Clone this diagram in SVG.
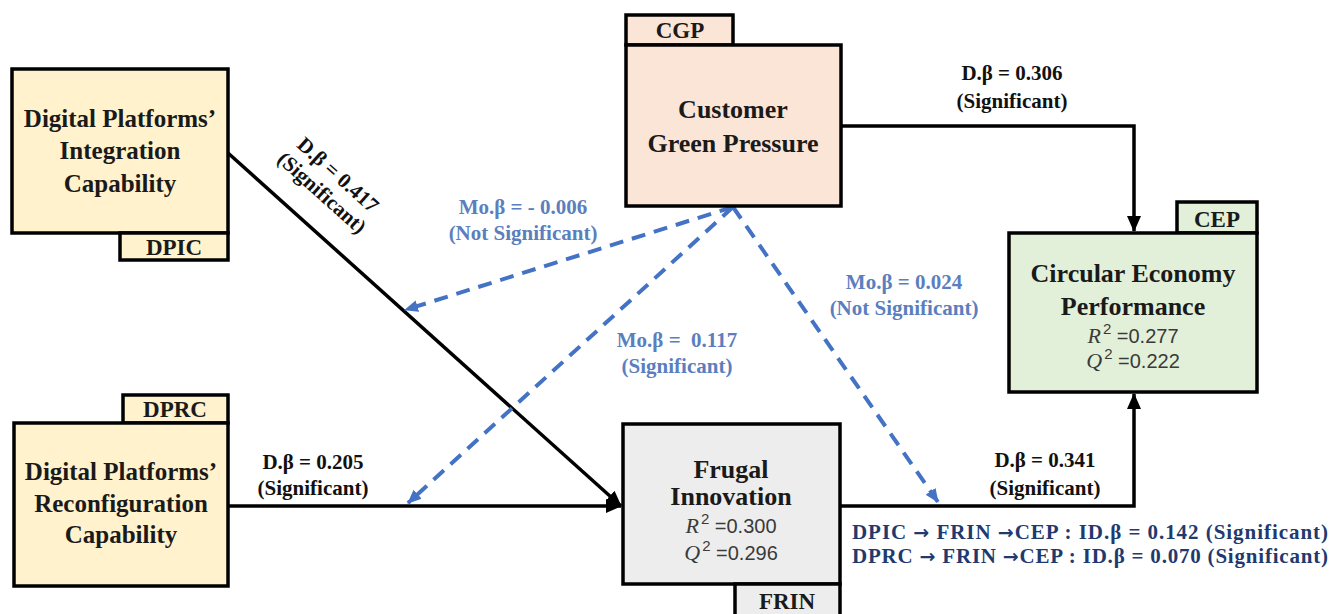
<svg xmlns="http://www.w3.org/2000/svg" width="1331" height="614" viewBox="0 0 1331 614">
<style>
.box{stroke:#000;stroke-width:3.5}
.y{fill:#FFF2CC}.p{fill:#FBE5D6}.g{fill:#E2F0D9}.gr{fill:#EDEDED}
.nt{font-family:"Liberation Serif",serif;font-weight:bold;font-size:25px;fill:#1a1a1a;text-anchor:middle}
.big{font-size:26px}
.tab{font-family:"Liberation Serif",serif;font-weight:bold;font-size:23px;fill:#1a1a1a;text-anchor:middle}
.st{font-family:"Liberation Sans",sans-serif;font-size:20px;fill:#3a3a3a;text-anchor:middle}
.it{font-family:"Liberation Serif",serif;font-style:italic;font-size:22px}
.sup{font-size:15px}
.lb{font-family:"Liberation Serif",serif;font-weight:bold;font-size:21px;fill:#111;text-anchor:middle}
.mo{font-family:"Liberation Serif",serif;font-weight:bold;font-size:21px;fill:#5B7FBE;text-anchor:middle}
.id{font-family:"Liberation Serif",serif;font-weight:bold;font-size:21px;fill:#1F3A6E}
.ar{font-family:"DejaVu Sans",sans-serif;font-weight:bold;font-size:19px}
.solid{fill:none;stroke:#000;stroke-width:3.5}
.dash{fill:none;stroke:#4472C4;stroke-width:4;stroke-dasharray:14 9}
</style>
<defs>
<marker id="ab" markerUnits="userSpaceOnUse" markerWidth="16" markerHeight="14" refX="15" refY="7" orient="auto">
<path d="M0,0 L16,7 L0,14 Z" fill="#000"/>
</marker>
<marker id="ablue" markerUnits="userSpaceOnUse" markerWidth="14" markerHeight="12" refX="13" refY="6" orient="auto">
<path d="M0,0 L14,6 L0,12 Z" fill="#4472C4"/>
</marker>
</defs>

<g id="connectors">
<line class="solid" x1="228" y1="153" x2="621" y2="506" marker-end="url(#ab)"/>
<line class="solid" x1="228" y1="506" x2="621" y2="506" marker-end="url(#ab)"/>
<polyline class="solid" points="841,126 1134,126 1134,231" marker-end="url(#ab)"/>
<polyline class="solid" points="840,506 1134,506 1134,394" marker-end="url(#ab)"/>
<line class="dash" x1="733" y1="207" x2="405" y2="310" marker-end="url(#ablue)"/>
<line class="dash" x1="733" y1="207" x2="408" y2="503" marker-end="url(#ablue)"/>
<line class="dash" x1="733" y1="207" x2="938" y2="502" marker-end="url(#ablue)"/>
<g transform="translate(328,186) rotate(41.9)">
<text class="lb" x="0" y="-8">D.β = 0.417</text>
<text class="lb" x="0" y="16">(Significant)</text>
</g>
<text class="lb" x="1012" y="80">D.β = 0.306</text>
<text class="lb" x="1012" y="108">(Significant)</text>
<text class="lb" x="313" y="469">D.β = 0.205</text>
<text class="lb" x="313" y="495">(Significant)</text>
<text class="lb" x="1045" y="467">D.β = 0.341</text>
<text class="lb" x="1045" y="495">(Significant)</text>
<text class="mo" x="523" y="214">Mo.β = - 0.006</text>
<text class="mo" x="523" y="240">(Not Significant)</text>
<text class="mo" x="677" y="347" xml:space="preserve">Mo.β =  0.117</text>
<text class="mo" x="677" y="373">(Significant)</text>
<text class="mo" x="904" y="289">Mo.β = 0.024</text>
<text class="mo" x="904" y="315">(Not Significant)</text>
<text class="id" x="852" y="539" textLength="476" lengthAdjust="spacing">DPIC <tspan class="ar">→</tspan> FRIN <tspan class="ar">→</tspan>CEP : ID.β = 0.142 (Significant)</text>
<text class="id" x="852" y="563" textLength="476" lengthAdjust="spacing">DPRC <tspan class="ar">→</tspan> FRIN <tspan class="ar">→</tspan>CEP : ID.β = 0.070 (Significant)</text>
</g>

<g id="DPIC">
<rect class="box y" x="12" y="69" width="216" height="164"/>
<rect class="box y" x="120" y="233" width="108" height="27"/>
<text class="nt" x="120" y="127">Digital Platforms’</text>
<text class="nt" x="120" y="159">Integration</text>
<text class="nt" x="120" y="192">Capability</text>
<text class="tab" x="174" y="255">DPIC</text>
</g>

<g id="DPRC">
<rect class="box y" x="123" y="395" width="105" height="28"/>
<rect class="box y" x="14" y="423" width="214" height="163"/>
<text class="tab" x="175" y="417">DPRC</text>
<text class="nt" x="121" y="480">Digital Platforms’</text>
<text class="nt" x="121" y="512">Reconfiguration</text>
<text class="nt" x="121" y="543">Capability</text>
</g>

<g id="CGP">
<rect class="box p" x="626" y="15" width="107" height="30"/>
<rect class="box p" x="626" y="45" width="215" height="161"/>
<text class="tab" x="680" y="38">CGP</text>
<text class="nt big" x="733" y="118">Customer</text>
<text class="nt big" x="733" y="152">Green Pressure</text>
</g>

<g id="CEP">
<rect class="box g" x="1177" y="202" width="80" height="31"/>
<rect class="box g" x="1009" y="233" width="248" height="159"/>
<text class="tab" x="1217" y="227">CEP</text>
<text class="nt big" x="1133" y="282">Circular Economy</text>
<text class="nt big" x="1133" y="315">Performance</text>
<text class="st" x="1133" y="343"><tspan class="it">R</tspan><tspan class="sup" dx="2" dy="-9">2</tspan><tspan dy="9"> =0.277</tspan></text>
<text class="st" x="1133" y="368"><tspan class="it">Q</tspan><tspan class="sup" dx="2" dy="-9">2</tspan><tspan dy="9"> =0.222</tspan></text>
</g>

<g id="FRIN">
<rect class="box gr" x="623" y="424" width="217" height="160"/>
<rect class="box gr" x="735" y="584" width="105" height="32"/>
<text class="nt big" x="731" y="478">Frugal</text>
<text class="nt big" x="731" y="505">Innovation</text>
<text class="st" x="731" y="533"><tspan class="it">R</tspan><tspan class="sup" dx="2" dy="-9">2</tspan><tspan dy="9"> =0.300</tspan></text>
<text class="st" x="731" y="560"><tspan class="it">Q</tspan><tspan class="sup" dx="2" dy="-9">2</tspan><tspan dy="9"> =0.296</tspan></text>
<text class="tab" x="787" y="609">FRIN</text>
</g>
</svg>
